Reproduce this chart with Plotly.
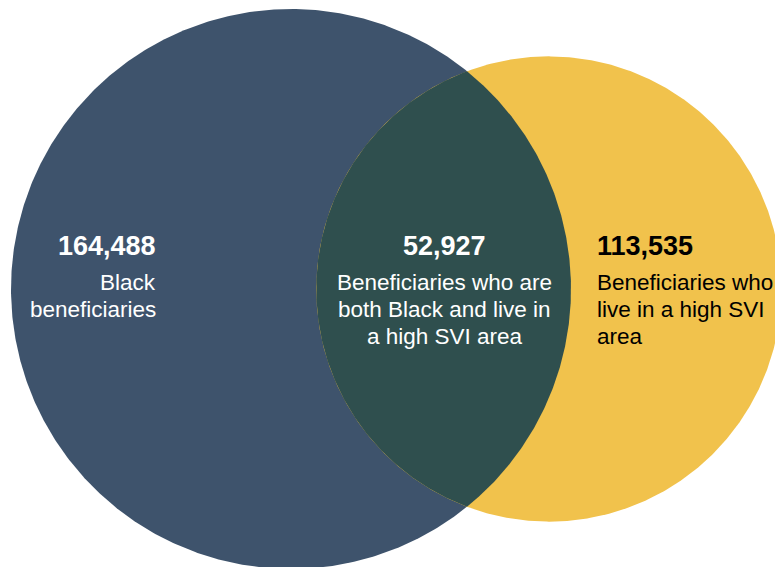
import numpy as np
import plotly.graph_objects as go

# Two-set Venn: circle areas are proportional to the set totals,
# and the lens area to the count that belongs to both sets.
set_names = ["Black beneficiaries", "Beneficiaries who live in a high SVI area"]
set_totals = [164488, 113535]
both_total = 52927

left_lines = ["Black", "beneficiaries"]
both_lines = ["Beneficiaries who are", "both Black and live in", "a high SVI area"]
right_lines = ["Beneficiaries who", "live in a high SVI", "area"]

fill_colors = ["#3E536C", "#F1C24C", "#2F4F4E"]

W, H = 775, 567
scale = 0.6904          # px per sqrt(count)
cx_left, cy = 291.0, 289.0

r1 = scale * np.sqrt(set_totals[0])
r2 = scale * np.sqrt(set_totals[1])
target = np.pi * scale ** 2 * both_total


def lens_area(d):
    a = (d * d + r1 * r1 - r2 * r2) / (2 * d)
    b = d - a
    s1 = r1 * r1 * np.arccos(np.clip(a / r1, -1, 1)) - a * np.sqrt(max(r1 * r1 - a * a, 0))
    s2 = r2 * r2 * np.arccos(np.clip(b / r2, -1, 1)) - b * np.sqrt(max(r2 * r2 - b * b, 0))
    return s1 + s2


# bisection for the centre distance that gives the required overlap
lo, hi = abs(r1 - r2) + 1e-6, r1 + r2 - 1e-6
for _ in range(100):
    mid = 0.5 * (lo + hi)
    if lens_area(mid) > target:
        lo = mid
    else:
        hi = mid
d = 0.5 * (lo + hi)
cx_right = cx_left + d

t = np.linspace(0, 2 * np.pi, 721)


def circle(cx, r):
    return cx + r * np.cos(t), cy + r * np.sin(t)


a = (d * d + r1 * r1 - r2 * r2) / (2 * d)
h = np.sqrt(r1 * r1 - a * a)
th1 = np.arctan2(h, a)
th2 = np.arctan2(h, a - d)
arc1 = np.linspace(-th1, th1, 300)
arc2 = np.linspace(th2, 2 * np.pi - th2, 300)
lens_x = np.concatenate([cx_left + r1 * np.cos(arc1), cx_right + r2 * np.cos(arc2)])
lens_y = np.concatenate([cy + r1 * np.sin(arc1), cy + r2 * np.sin(arc2)])

fig = go.Figure()
for (x, y), col, name in [
    (circle(cx_left, r1), fill_colors[0], set_names[0]),
    (circle(cx_right, r2), fill_colors[1], set_names[1]),
    ((lens_x, lens_y), fill_colors[2], "Both"),
]:
    fig.add_trace(go.Scatter(
        x=x, y=y, mode="lines", fill="toself", fillcolor=col,
        line=dict(width=0, color=col), hoverinfo="skip", name=name,
    ))

font = "Liberation Sans, Arial, sans-serif"
num_size, lab_size = 27, 22.5
num_y = 246
line_y0, line_step = 282.8, 26.6

texts = [
    # (x, value, label lines, anchor, colour)
    (157.5, set_totals[0], left_lines, "right", "#FFFFFF"),
    (444.5, both_total, both_lines, "center", "#FFFFFF"),
    (595, set_totals[1], right_lines, "left", "#000000"),
]
for x, val, lines, anchor, col in texts:
    fig.add_annotation(
        x=x, y=num_y, xref="x", yref="y", text=f"<b>{val:,}</b>", showarrow=False,
        xanchor=anchor, yanchor="middle", align=anchor,
        font=dict(family=font, size=num_size, color=col),
    )
    for i, line in enumerate(lines):
        fig.add_annotation(
            x=x, y=line_y0 + i * line_step, xref="x", yref="y", text=line,
            showarrow=False, xanchor=anchor, yanchor="middle", align=anchor,
            font=dict(family=font, size=lab_size, color=col),
        )

fig.update_layout(
    width=W, height=H, margin=dict(l=0, r=0, t=0, b=0),
    paper_bgcolor="white", plot_bgcolor="white", showlegend=False,
    xaxis=dict(range=[0, W], visible=False, fixedrange=True),
    yaxis=dict(range=[H, 0], visible=False, fixedrange=True),
)

fig.write_html("out.html")
